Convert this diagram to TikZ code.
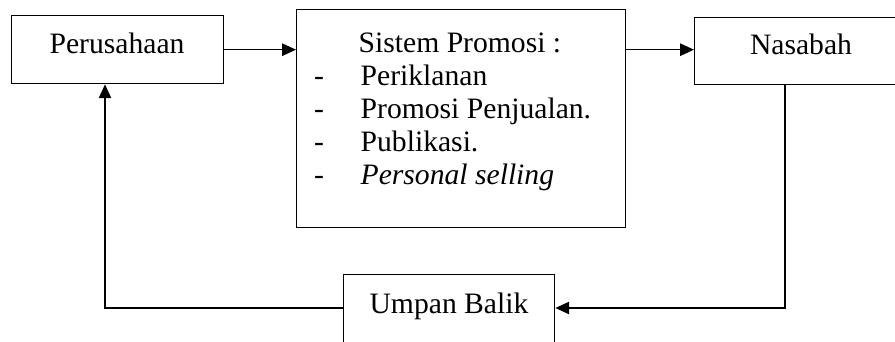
\documentclass[tikz,border=0pt]{standalone}
\usepackage{fontspec}
\setmainfont{Liberation Serif}
\usetikzlibrary{arrows.meta}
\def\pxu{0.405pt}
\begin{document}
\begin{tikzpicture}[x=0.405pt,y=-0.405pt, line width=0.55pt,
  box/.style={draw, rectangle, inner sep=0pt, anchor=north west},
  lbl/.style={anchor=base, inner sep=0pt, font=\fontsize{12}{14}\selectfont},
  arr/.style={-{Triangle[length=5.6pt,width=5pt]}}]
\clip (0,0) rectangle (895,341);
\useasboundingbox (0,0) rectangle (895,341);
% boxes
\node[box, minimum width=212*\pxu, minimum height=68*\pxu] (per) at (11,15) {};
\node[box, minimum width=329*\pxu, minimum height=218*\pxu] (prom) at (296,9) {};
\node[box, minimum width=214*\pxu, minimum height=67*\pxu] (nas) at (694,17) {};
\node[box, minimum width=211*\pxu, minimum height=80*\pxu] (ump) at (343,274) {};
% texts
\node[lbl] (tper) at (117,53) {Perusahaan};
\node[lbl] (tnas) at (801,54) {Nasabah};
\node[lbl] (tump) at (449,313) {Umpan Balik};
\node[lbl, anchor=base west] (t0) at (358,52) {Sistem Promosi :};
\node[lbl] (d1) at (319,85) {-};
\node[lbl, anchor=base west] (t1) at (360,85) {Periklanan};
\node[lbl] (d2) at (319,118) {-};
\node[lbl, anchor=base west] (t2) at (360,118) {Promosi Penjualan.};
\node[lbl] (d3) at (319,151) {-};
\node[lbl, anchor=base west] (t3) at (360,151) {Publikasi.};
\node[lbl] (d4) at (319,184) {-};
\node[lbl, anchor=base west] (t4) at (360,184) {\textit{Personal selling}};
% connectors
\coordinate (fb) at (785,308);
\coordinate (fb2) at (105,308);
\draw[arr] (per.east) -- (per.east -| prom.west);
\draw[arr] (prom.east |- per.east) -- (nas.west |- per.east);
\draw[arr] (nas.south -| fb) -- (fb) -- (ump.east |- fb);
\draw[arr] (ump.west |- fb2) -- (fb2) -- (per.south -| fb2);
\end{tikzpicture}
\end{document}
